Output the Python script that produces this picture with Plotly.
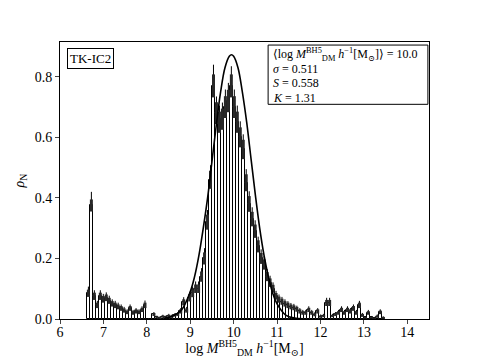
"""
TK-IC2 BH5 dark-matter halo mass distribution: histogram with error bars + fitted curve
"""

import numpy as np
import plotly.graph_objects as go

# histogram binning (log mass)
bin_lo = 6.62
bin_hi = 13.48
n_bins = 100

# normalised density per bin
rho_n = [
    0.085, 0.375, 0.075, 0.045, 0.075, 0.065, 0.07, 0.06, 0.05, 0.045,
    0.04, 0.035, 0.028, 0.022, 0.035, 0.02, 0.025, 0.022, 0.03, 0.045,
    0.0, 0.0, 0.015, 0.006, 0.004, 0.008, 0.006, 0.01, 0.008, 0.012,
    0.015, 0.025, 0.055, 0.028, 0.07, 0.085, 0.1, 0.1, 0.14, 0.2,
    0.32, 0.46, 0.77, 0.68, 0.65, 0.66, 0.7, 0.72, 0.77, 0.7,
    0.65, 0.6, 0.56, 0.45, 0.38, 0.33, 0.29, 0.24, 0.2, 0.18,
    0.14, 0.12, 0.1, 0.075, 0.064, 0.057, 0.05, 0.045, 0.04, 0.037,
    0.032, 0.025, 0.02, 0.02, 0.03, 0.02, 0.014, 0.025, 0.008, 0.01,
    0.053, 0.053, 0.01, 0.015, 0.02, 0.03, 0.02, 0.03, 0.025, 0.035,
    0.02, 0.045, 0.012, 0.005, 0.02, 0.005, 0.003, 0.008, 0.022, 0.004,
]

# thick error band (half width)
err_band = [
    0.012, 0.02, 0.012, 0.009, 0.012, 0.011, 0.011, 0.01, 0.009, 0.009,
    0.008, 0.008, 0.007, 0.006, 0.008, 0.006, 0.007, 0.006, 0.007, 0.009,
    0.0, 0.0, 0.005, 0.003, 0.003, 0.004, 0.003, 0.004, 0.004, 0.004,
    0.005, 0.007, 0.01, 0.007, 0.012, 0.013, 0.014, 0.014, 0.017, 0.02,
    0.025, 0.03, 0.038, 0.036, 0.035, 0.035, 0.036, 0.037, 0.038, 0.036,
    0.035, 0.033, 0.032, 0.028, 0.026, 0.024, 0.022, 0.02, 0.018, 0.017,
    0.015, 0.014, 0.013, 0.011, 0.01, 0.01, 0.009, 0.009, 0.008, 0.008,
    0.008, 0.007, 0.006, 0.006, 0.007, 0.006, 0.005, 0.007, 0.004, 0.004,
    0.01, 0.01, 0.004, 0.005, 0.006, 0.007, 0.006, 0.007, 0.007, 0.008,
    0.006, 0.009, 0.005, 0.003, 0.006, 0.003, 0.002, 0.004, 0.006, 0.003,
]

# thin upper whisker
err_up = [
    0.022, 0.045, 0.02, 0.015, 0.02, 0.018, 0.018, 0.017, 0.015, 0.015,
    0.014, 0.013, 0.012, 0.01, 0.013, 0.01, 0.011, 0.01, 0.012, 0.016,
    0.0, 0.0, 0.008, 0.005, 0.004, 0.006, 0.005, 0.007, 0.006, 0.007,
    0.008, 0.011, 0.017, 0.012, 0.02, 0.022, 0.024, 0.024, 0.028, 0.034,
    0.04, 0.048, 0.07, 0.055, 0.055, 0.055, 0.058, 0.06, 0.065, 0.058,
    0.055, 0.053, 0.05, 0.045, 0.042, 0.039, 0.036, 0.032, 0.03, 0.028,
    0.025, 0.023, 0.021, 0.018, 0.017, 0.016, 0.015, 0.014, 0.013, 0.013,
    0.012, 0.011, 0.01, 0.01, 0.012, 0.01, 0.008, 0.011, 0.007, 0.007,
    0.017, 0.017, 0.007, 0.008, 0.01, 0.012, 0.01, 0.012, 0.011, 0.013,
    0.01, 0.015, 0.008, 0.005, 0.01, 0.005, 0.004, 0.007, 0.01, 0.005,
]

# fitted curve, sampled from the figure
fit_x = [8.4, 8.6, 8.8, 9.0, 9.1, 9.2, 9.3, 9.4, 9.5, 9.6, 9.7, 9.8, 9.9, 9.95,
         10.0, 10.1, 10.2, 10.3, 10.4, 10.5, 10.6, 10.7, 10.8, 10.9, 11.0,
         11.2, 11.4, 11.6]
fit_y = [0.002, 0.01, 0.03, 0.09, 0.14, 0.21, 0.30, 0.40, 0.52, 0.64, 0.75,
         0.83, 0.868, 0.873, 0.868, 0.83, 0.75, 0.65, 0.53, 0.41, 0.30, 0.21,
         0.14, 0.085, 0.05, 0.013, 0.003, 0.0005]

x_ticks = [6, 7, 8, 9, 10, 11, 12, 13, 14]
y_ticks = [0.0, 0.2, 0.4, 0.6, 0.8]

label_box = "TK-IC2"
stats_lines = [
    "⟨log <i>M</i><sup>BH5</sup><sub>DM</sub> <i>h</i><sup>−1</sup>[M<sub>⊙</sub>]⟩ = 10.0",
    "<i>σ</i> = 0.511",
    "<i>S</i> = 0.558",
    "<i>K</i> = 1.31",
]

FONT = "Liberation Serif, DejaVu Serif, serif"

edges = np.linspace(bin_lo, bin_hi, n_bins + 1)
centers = 0.5 * (edges[:-1] + edges[1:])
width = edges[1] - edges[0]

fig = go.Figure()

# bars (white fill, black edges) with thin upper whisker
fig.add_trace(go.Bar(
    x=centers, y=rho_n, width=width,
    marker=dict(color="white", line=dict(color="black", width=1)),
    error_y=dict(type="data", symmetric=False, array=err_up,
                 arrayminus=[0] * n_bins, color="black", thickness=1, width=0),
    showlegend=False,
))

# thick error band on top
fig.add_trace(go.Scatter(
    x=centers, y=rho_n, mode="markers",
    marker=dict(size=1, color="rgba(0,0,0,0)"),
    error_y=dict(type="data", array=err_band, color="rgb(40,40,40)",
                 thickness=3, width=0),
    showlegend=False,
))

# fitted curve
fig.add_trace(go.Scatter(
    x=fit_x, y=fit_y, mode="lines", line=dict(color="black", width=1.6, shape="spline"),
    showlegend=False,
))

fig.add_annotation(
    x=0.019, y=0.978, xref="paper", yref="paper", xanchor="left", yanchor="top",
    text=label_box, showarrow=False, font=dict(family=FONT, size=13, color="black"),
    bordercolor="black", borderwidth=1, borderpad=2, bgcolor="white",
)

# stats box: frame + one annotation per line (tighter line spacing)
fig.add_shape(type="rect", xref="paper", yref="paper",
              x0=0.564, x1=0.997, y0=0.775, y1=0.989,
              line=dict(color="black", width=1), fillcolor="white", layer="above")
for k, line_txt in enumerate(stats_lines):
    fig.add_annotation(
        x=0.571, y=0.955 - 0.052 * k, xref="paper", yref="paper",
        xanchor="left", yanchor="middle", text=line_txt, showarrow=False,
        font=dict(family=FONT, size=12, color="black"),
    )

# page has an 8px body margin, so the figure is trimmed to keep the frame in place
fig.update_layout(
    width=469, height=350,
    margin=dict(l=52, r=48, t=34, b=39),
    paper_bgcolor="white", plot_bgcolor="white",
    font=dict(family=FONT, size=14, color="black"),
    bargap=0,
)
fig.update_xaxes(
    range=[6, 14.5], tickvals=x_ticks, ticks="outside", ticklen=4,
    ticklabelstandoff=-4,
    showline=True, mirror=True, linecolor="black", linewidth=1,
    showgrid=False, zeroline=False, automargin=False,
    title=dict(text="log <i>M</i><sup>BH5</sup><sub>DM</sub> <i>h</i><sup>−1</sup>[M<sub>⊙</sub>]",
               standoff=6, font=dict(size=14)),
)
fig.update_yaxes(
    range=[0, 0.915], tickvals=y_ticks, tickformat=".1f", ticks="outside", ticklen=4,
    showline=True, mirror=True, linecolor="black", linewidth=1,
    showgrid=False, zeroline=False, automargin=False,
    title=dict(text="<i>ρ</i><sub>N</sub>", standoff=6, font=dict(size=14)),
)

fig.write_html("out.html")
